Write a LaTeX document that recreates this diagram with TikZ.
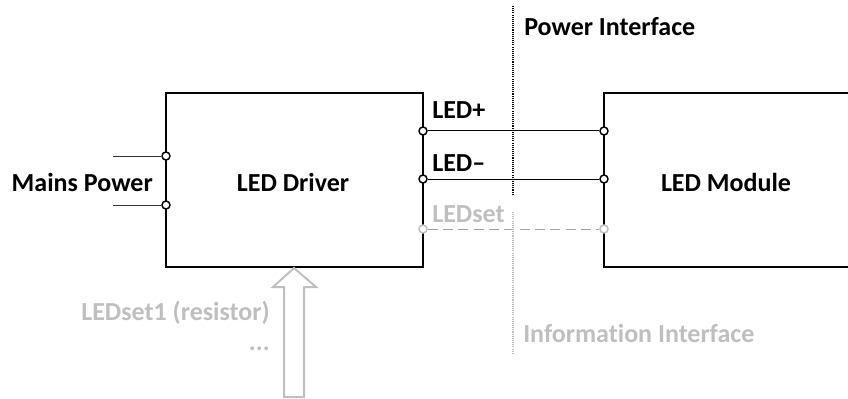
\documentclass[tikz,border=0pt]{standalone}
\usepackage{fontspec}
\setmainfont{Carlito}[Ligatures=CommonOff]
\usepackage{tikz}
\definecolor{lightgrey}{RGB}{191,191,191}
\tikzset{
    pin/.style={shape=circle, draw=black, fill=white, line width=1.1pt, inner sep=0pt, minimum size=6pt},
    greypin/.style={pin, draw=lightgrey},
    box/.style={line width=1.5pt},
    wire/.style={line width=0.75pt},
    txt/.style={font=\fontsize{19.5}{23}\selectfont\bfseries, inner sep=0pt}}

\begin{document}
\begin{tikzpicture}[x=0.75pt, y=-0.75pt]

            \useasboundingbox (0,0) rectangle (848,399);

            \draw[box] (423,93) -- (166,93) -- (166,267) -- (423,267) -- cycle;
            \draw[box] (850,93) -- (604,93) -- (604,267) -- (850,267);

            \node[txt] (driver) at (293,182) {LED Driver};
            \node[txt] (module) at (726,182) {LED Module};
            \node[txt, anchor=east] (mains) at (153,182) {Mains Power};

            \coordinate (M1) at (113,156);
            \coordinate (M2) at (113,205);
            \node[pin] (A1) at (166,156) {};
            \node[pin] (A2) at (166,205) {};
            \draw[wire, black!80] (M1) -- (A1);
            \draw[wire, black!80] (M2) -- (A2);

            \node[pin] (B1) at (423,131) {};
            \node[pin] (B2) at (423,179) {};
            \node[greypin] (B3) at (423,229) {};
            \node[pin] (C1) at (604,131) {};
            \node[pin] (C2) at (604,179) {};
            \node[greypin] (C3) at (604,229) {};

            \draw[wire] (B1) -- (C1);
            \draw[wire] (B2) -- (C2);
            \draw[wire, lightgrey!85!black, dash pattern=on 7.5pt off 4pt] (B3) -- (C3);

            \node[txt, anchor=west] (lp) at (432,110) {LED+};
            \node[txt, anchor=west] (lm) at (432,163.5) {LED\textendash};
            \node[txt, anchor=west, text=lightgrey] (ls) at (432,214.5) {LEDset};

            \coordinate (P1) at (513,6);
            \coordinate (P2) at (513,195);
            \coordinate (I1) at (513,212);
            \coordinate (I2) at (513,353);
            \draw[line width=1pt, dash pattern=on 0.8pt off 0.8pt] (P1) -- (P2);
            \draw[line width=1pt, lightgrey, dash pattern=on 0.8pt off 0.8pt] (I1) -- (I2);

            \node[txt, anchor=west] (power) at (524,27) {Power Interface};
            \node[txt, anchor=west, text=lightgrey] (info) at (523,333) {Information Interface};

            \draw[lightgrey, line width=1.5pt, line join=miter] (294,268) -- (316,287) -- (304,287) -- (304,397)
                -- (284,397) -- (284,287) -- (273,287) -- cycle;

            \node[txt, anchor=east, text=lightgrey] (set1) at (270,313) {LEDset1 (resistor)};
            \node[txt, anchor=east, text=lightgrey] (dots) at (270,349) {...};

        \end{tikzpicture}
\end{document}
